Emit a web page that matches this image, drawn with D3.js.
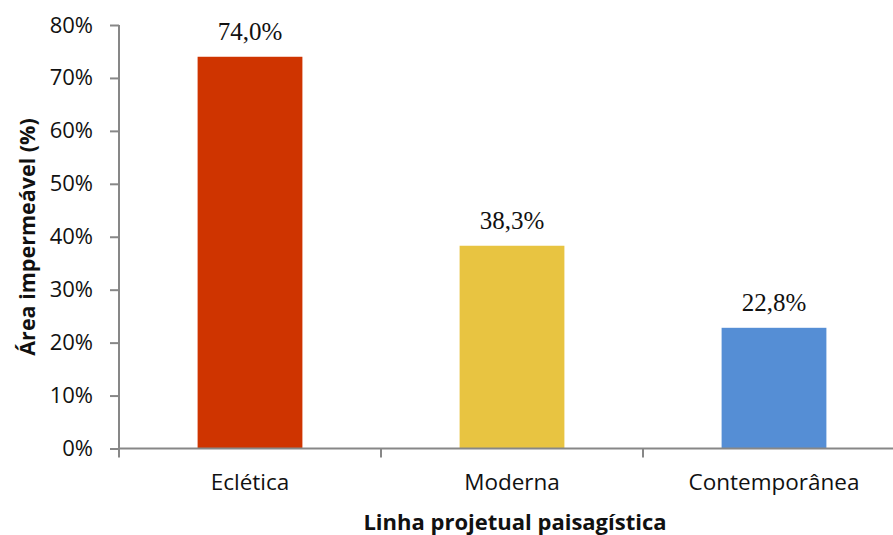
<!DOCTYPE html>
<html><head><meta charset="utf-8">
<script src="https://cdn.jsdelivr.net/npm/d3@7"></script>
<style>body{margin:0;background:#fff}svg{display:block}</style>
</head><body>
<svg id="c" width="893" height="535"></svg>
<script>
const categories = ["Eclética", "Moderna", "Contemporânea"];
const values = [74.0, 38.3, 22.8];
const colors = ["#CF3400", "#E8C441", "#558ED5"];
const yTicks = [0, 10, 20, 30, 40, 50, 60, 70, 80];
const yTitle = "Área impermeável (%)";
const xTitle = "Linha projetual paisagística";

(function () {
const svg = d3.select("#c");
const plotLeft = 119, bandW = 262, plotTop = 25, plotBottom = 448.5;
const x = d3.scaleBand().domain(categories).range([plotLeft, plotLeft + bandW * categories.length]).paddingInner(0.6).paddingOuter(0.3);
const y = d3.scaleLinear().domain([0, 80]).range([plotBottom, plotTop]);
const axisColor = "#878787";
const sans = "'Open Sans', sans-serif";

// bars
svg.selectAll("rect.bar").data(values).enter().append("rect")
  .attr("class", "bar")
  .attr("x", (d, i) => x(categories[i]))
  .attr("width", x.bandwidth())
  .attr("y", d => y(d))
  .attr("height", d => y(0) - y(d))
  .attr("fill", (d, i) => colors[i]);

// value labels
svg.selectAll("text.val").data(values).enter().append("text")
  .attr("class", "val")
  .attr("x", (d, i) => x(categories[i]) + x.bandwidth() / 2)
  .attr("y", d => y(d) - 17)
  .attr("text-anchor", "middle")
  .attr("font-family", "'Liberation Serif', 'Times New Roman', serif")
  .attr("font-size", 25)
  .attr("fill", "#111")
  .text(d => d.toFixed(1).replace(".", ",") + "%");

// y axis
const yAxis = svg.append("g").attr("transform", `translate(${plotLeft},0)`)
  .call(d3.axisLeft(y).tickValues(yTicks).tickSize(9).tickPadding(17).tickFormat(d => d + "%"));
yAxis.selectAll("path, line").attr("stroke", axisColor).attr("stroke-width", 2);
yAxis.select("path").attr("d", `M0,${plotTop}V${plotBottom}`);
yAxis.selectAll("text").attr("font-family", sans).attr("font-size", 22).attr("fill", "#111");

// x axis
const xEdges = [0, 1, 2, 3].map(i => plotLeft + i * bandW);
svg.append("line").attr("x1", plotLeft).attr("x2", 893).attr("y1", y(0)).attr("y2", y(0))
  .attr("stroke", axisColor).attr("stroke-width", 2);
svg.selectAll("line.xt").data(xEdges).enter().append("line")
  .attr("class", "xt")
  .attr("x1", d => d).attr("x2", d => d).attr("y1", y(0)).attr("y2", y(0) + 9)
  .attr("stroke", axisColor).attr("stroke-width", 2);
svg.selectAll("text.cat").data(categories).enter().append("text")
  .attr("class", "cat")
  .attr("x", d => x(d) + x.bandwidth() / 2)
  .attr("y", 490)
  .attr("text-anchor", "middle")
  .attr("font-family", sans).attr("font-size", 22.5).attr("fill", "#111")
  .text(d => d);

// titles
svg.append("text")
  .attr("transform", `translate(35,237) rotate(-90)`)
  .attr("text-anchor", "middle")
  .attr("font-family", sans).attr("font-weight", "bold").attr("font-size", 21.5).attr("fill", "#111")
  .text(yTitle);
svg.append("text")
  .attr("x", 515).attr("y", 530)
  .attr("text-anchor", "middle")
  .attr("font-family", sans).attr("font-weight", "bold").attr("font-size", 22).attr("fill", "#111")
  .text(xTitle);
})();
</script>
</body></html>
